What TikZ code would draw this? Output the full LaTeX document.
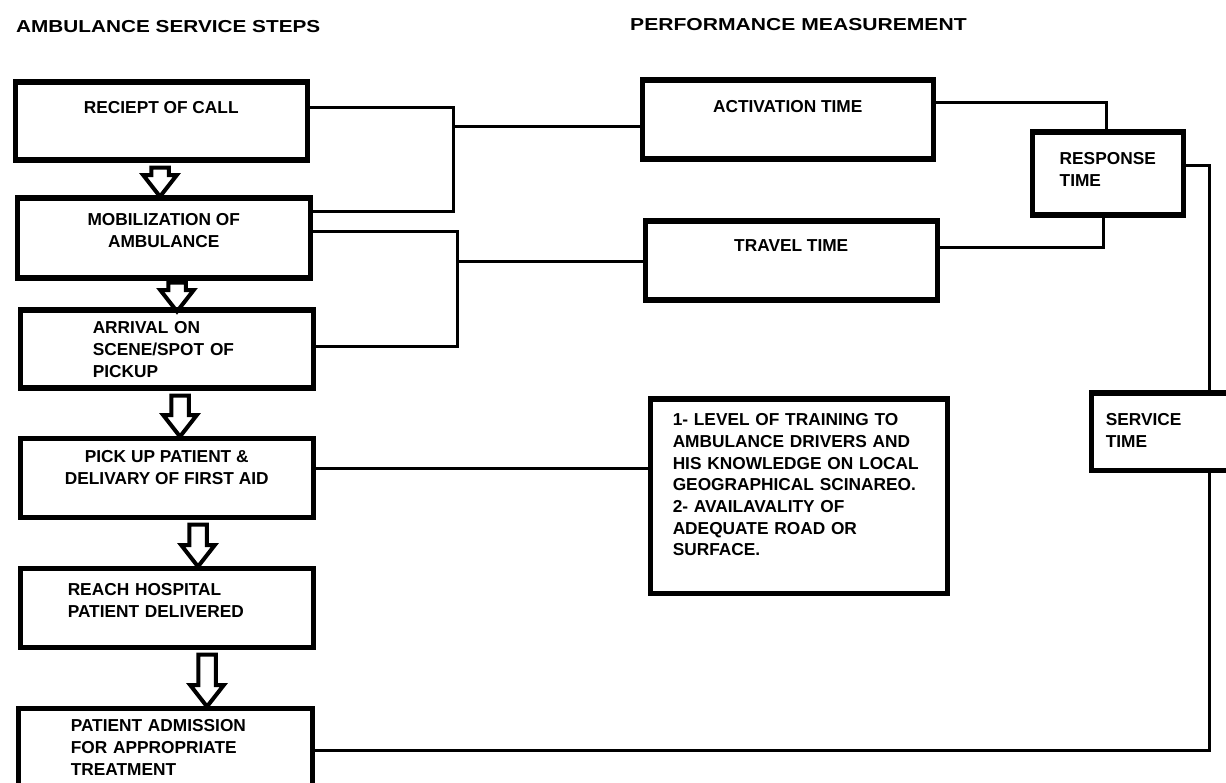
\documentclass[tikz,border=0pt]{standalone}
\usepackage{fontspec}
\setmainfont{Liberation Sans}[BoldFont={Liberation Sans Bold}]
\usepackage{graphicx}
\usepackage{tikz}
\usetikzlibrary{shapes.arrows}

\begin{document}
\begin{tikzpicture}[x=1pt, y=-1pt,
        stepbox/.style={draw, rectangle, line width=5.5pt, anchor=north west, inner xsep=0pt, inner ysep=0pt},
        link/.style={line width=3pt},
        downarrow/.style={draw, line width=4pt, fill=white, single arrow, shape border rotate=270,
            inner sep=6.75pt, single arrow head extend=8pt, single arrow tip angle=76},
        font=\bfseries\fontsize{17.3}{21.7}\selectfont]
        \useasboundingbox (0,0) rectangle (1226,783);
        \clip (0,0) rectangle (1226,783);

        \node[anchor=base west, inner sep=0pt] (stepstitle) at (16,33) {\scalebox{1.2}[1]{AMBULANCE SERVICE STEPS}};
        \node[anchor=base west, inner sep=0pt] (perftitle) at (630,31) {\scalebox{1.22}[1]{PERFORMANCE MEASUREMENT}};

        % hollow arrows between the steps
        \node[downarrow, minimum height=29pt] (arr1) at (160,176.5) {};
        \node[downarrow, minimum height=23pt] (arr2) at (177,291.5) {};
        \node[downarrow, minimum height=41pt] (arr3) at (180,410.5) {};
        \node[downarrow, minimum height=42pt] (arr4) at (198,540) {};
        \node[downarrow, minimum height=52pt] (arr5) at (207,675) {};

        % service steps
        \node[stepbox, minimum width=292pt, align=center, text height=31.5pt, text depth=46.5pt] (receipt) at (12.5,79.5) {RECIEPT OF CALL};
        \node[stepbox, minimum width=293pt, align=center, text height=49.2pt, text depth=30.8pt] (mobil) at (14.5,195.5) {MOBILIZATION OF\\AMBULANCE};
        \node[stepbox, inner xsep=72.5pt, text width=148pt, align=left, text height=23.5pt, text depth=54.5pt] (arrival) at (17.5,307.5) {ARRIVAL ON\\SCENE/SPOT OF\\PICKUP};
        \node[stepbox, minimum width=293pt, align=center, text height=46.2pt, text depth=32.8pt] (pickup) at (17.5,435.5) {PICK UP PATIENT \&\\DELIVARY OF FIRST AID};
        \node[stepbox, inner xsep=47.5pt, text width=198pt, align=left, text height=27.5pt, text depth=51.5pt] (reach) at (17.5,565.5) {REACH HOSPITAL\\PATIENT DELIVERED};
        \node[stepbox, inner xsep=52.5pt, text width=189pt, align=left, text height=23.5pt, text depth=71pt] (admission) at (15.5,705.5) {PATIENT ADMISSION\\FOR APPROPRIATE\\TREATMENT};

        % measurements
        \node[stepbox, minimum width=291pt, align=center, text height=32.5pt, text depth=46.5pt] (activation) at (639.5,77.5) {ACTIVATION TIME};
        \node[stepbox, minimum width=292pt, align=center, text height=30.5pt, text depth=48.5pt] (travel) at (642.5,218.5) {TRAVEL TIME};
        \node[stepbox, minimum width=151pt, align=left, text height=54.2pt, text depth=28.8pt] (response) at (1029.5,129.5) {RESPONSE\\TIME};
        \node[stepbox, inner xsep=22.5pt, text width=252pt, align=left, text height=26.5pt, text depth=167.5pt] (training) at (647.5,396.5)
        {1- LEVEL OF TRAINING TO\\AMBULANCE DRIVERS AND\\HIS KNOWLEDGE ON LOCAL\\GEOGRAPHICAL SCINAREO.\\2- AVAILAVALITY OF\\ADEQUATE ROAD OR\\SURFACE.};
        \node[stepbox, inner xsep=14.5pt, text width=182.5pt, align=left, text height=32.5pt, text depth=44.5pt] (service) at (1088.5,390.5) {SERVICE\\TIME};

        % links
        \coordinate (fa1) at (453,108);
        \coordinate (fa2) at (453,212);
        \coordinate (fa) at (453,127);
        \draw[link] (receipt.east |- fa1) -- (fa1) -- (fa2) -- (mobil.east |- fa2);
        \draw[link] (fa) -- (activation.west |- fa);

        \coordinate (fb1) at (457,232);
        \coordinate (fb2) at (457,347);
        \coordinate (fb) at (457,262);
        \draw[link] (mobil.east |- fb1) -- (fb1) -- (fb2) -- (arrival.east |- fb2);
        \draw[link] (fb) -- (travel.west |- fb);

        \coordinate (ra) at (1106,103);
        \coordinate (rb) at (1103,248);
        \draw[link] (activation.east |- ra) -- (ra) -- (ra |- response.north);
        \draw[link] (travel.east |- rb) -- (rb) -- (rb |- response.south);

        \coordinate (sa) at (1209,166);
        \coordinate (sb) at (1209,750);
        \draw[link] (response.east |- sa) -- (sa) -- (sa |- service.north);
        \draw[link] (sb |- service.south) -- (sb) -- (admission.east |- sb);

        \coordinate (tc) at (640,468);
        \draw[link] (pickup.east |- tc) -- (training.west |- tc);
        %\draw[link] (reach.east) -- (training.west);
\end{tikzpicture}
\end{document}
